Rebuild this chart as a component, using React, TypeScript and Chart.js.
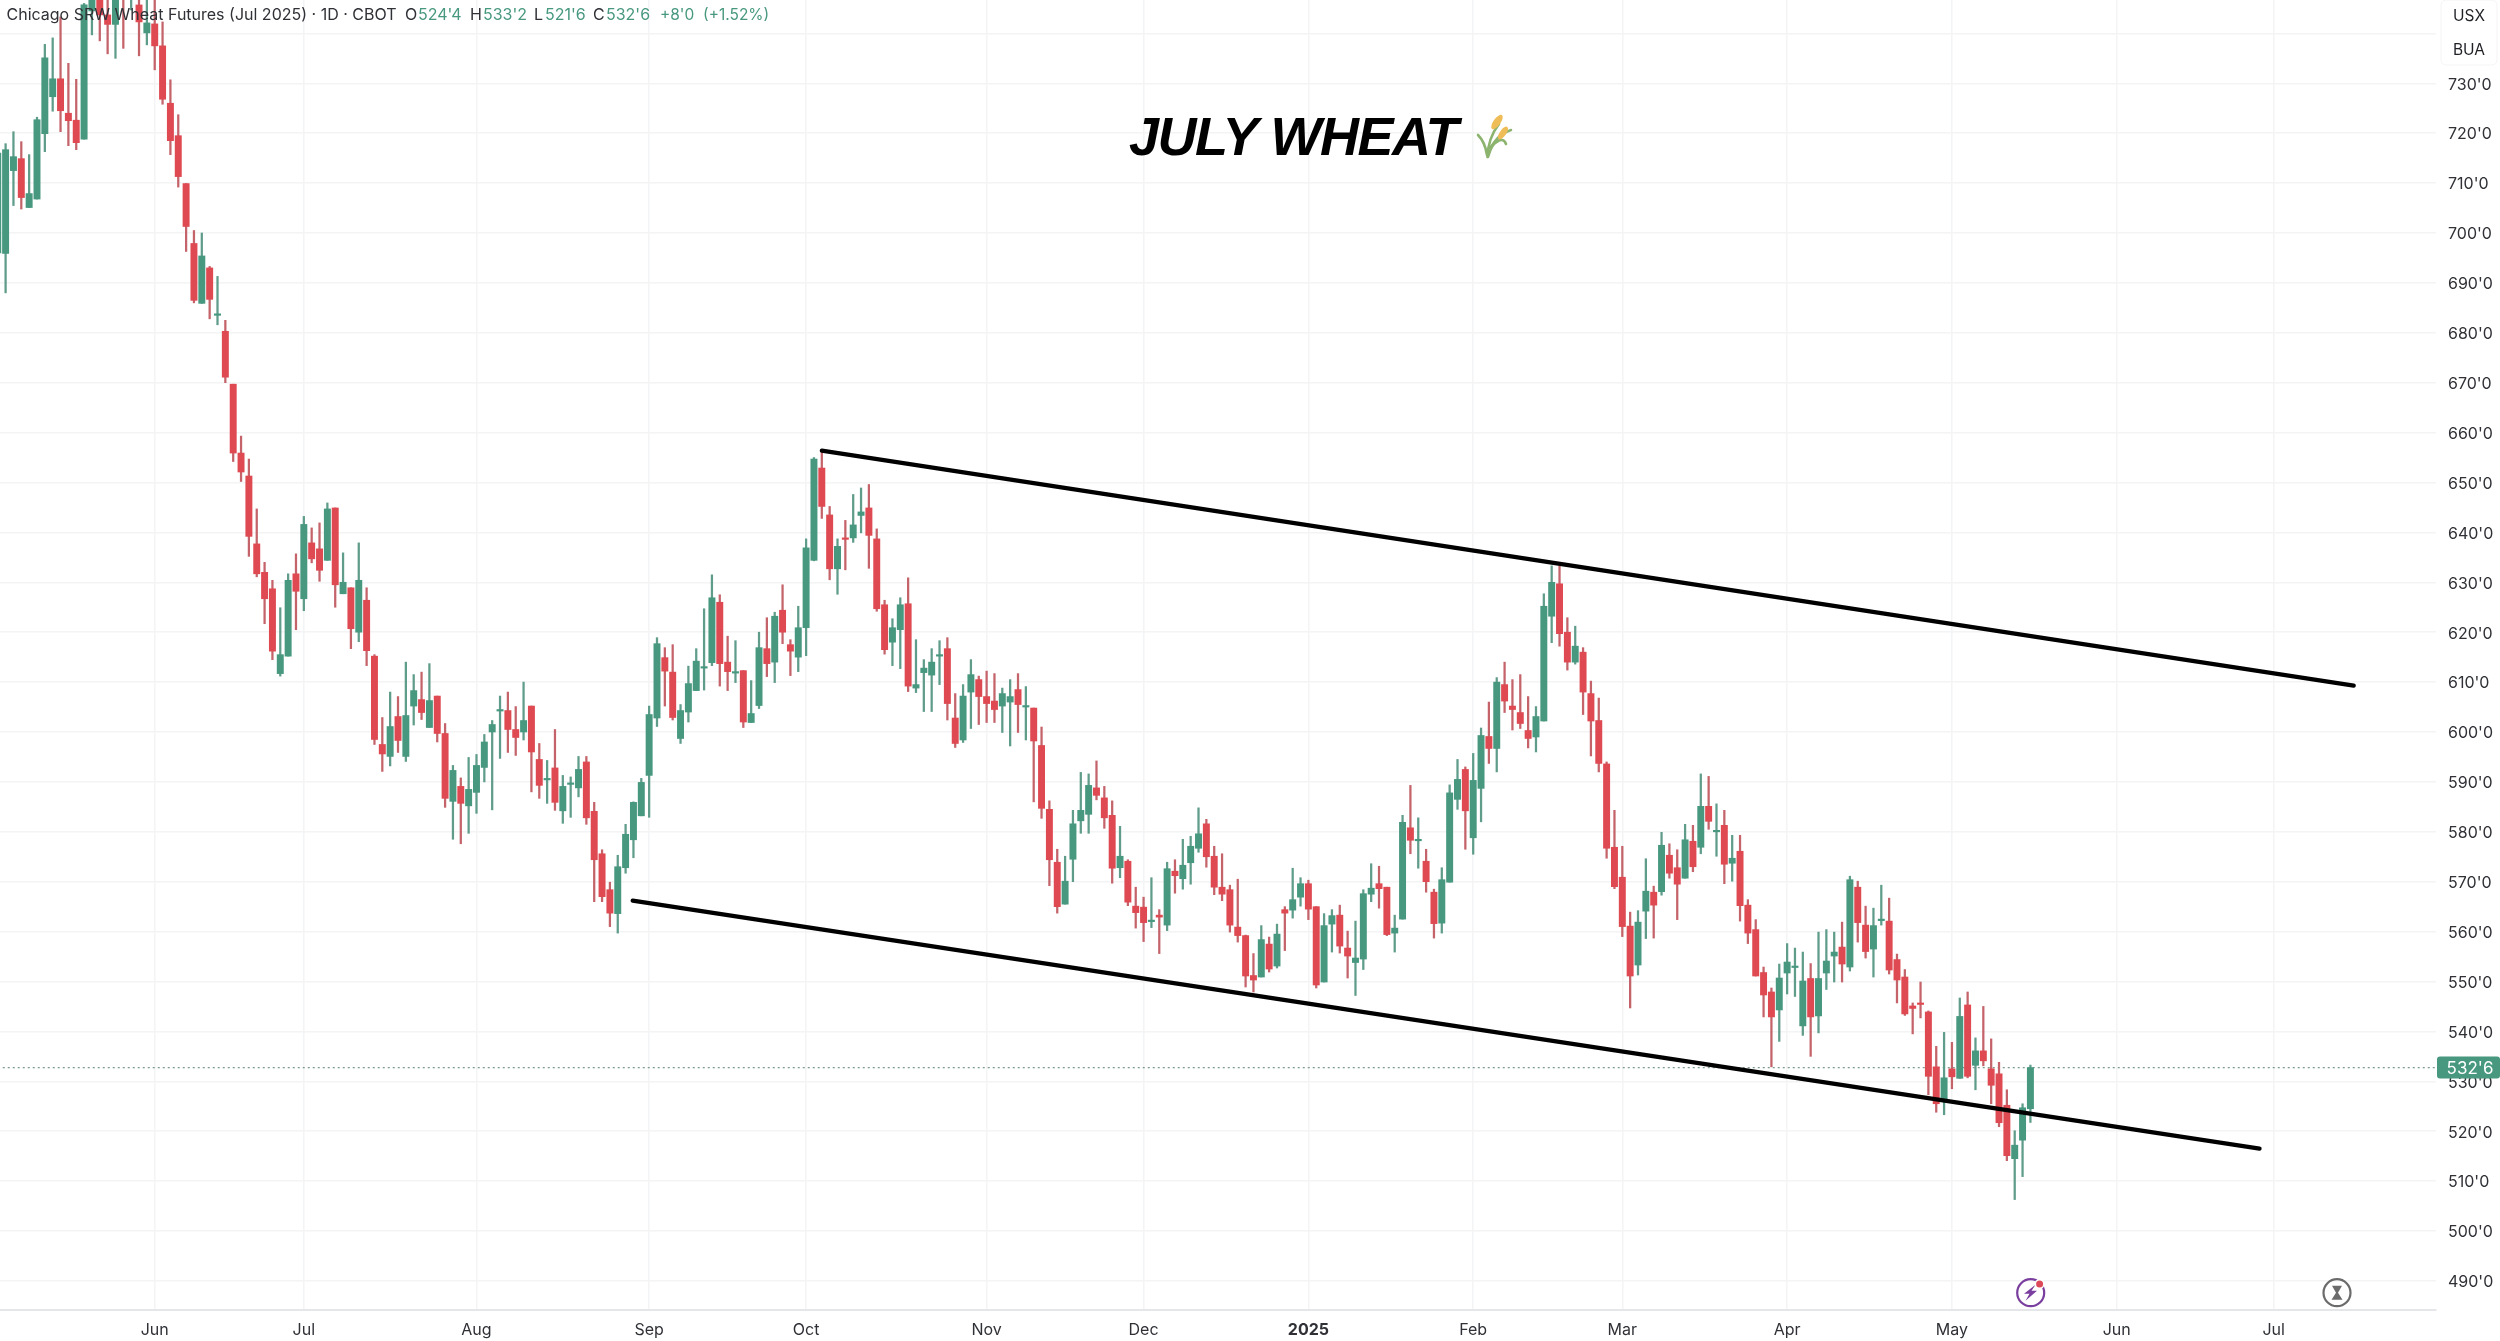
import React, { useEffect, useRef } from "react";
import { Chart, registerables } from "chart.js";

Chart.register(...registerables);

const opens = [696,
695.9,712.5,714.9,705.1,706.8,719.9,727.3,730.9,724,722.6,
718.8,744.5,750,743.7,741.8,752,748,745.7,740.1,741.9,
737.5,726,719.5,709.9,697.9,685.9,693,683.5,680.3,669.7,
655.9,651.3,637.7,632,628.7,611.7,615.2,631.7,626.7,637.9,
636.7,634.4,644.9,627.7,628.9,620,626.4,615.2,597.5,595.1,
603.1,595.1,605.2,606.5,600.9,607.2,599.7,586.1,589.1,585.2,
587.9,592.9,600,604.2,604.3,600.5,600,605.2,594.5,590.4,
592.8,584.2,589.5,588.8,594,584.1,575.6,568.4,563.6,572.8,
578.4,583.2,591.3,602.8,614.9,612,598.7,604,608.3,612.8,
613.9,626,614,611.8,612.3,601.9,605.3,616.7,614,624.4,
617.5,615,620.9,634.4,652.9,643.5,632.7,638.9,638.9,643.4,
644.9,638.7,625.5,618,620.5,625.7,608.8,611.9,611.4,615.2,
616.7,602.8,598.4,608,610.5,607.1,606.2,605.2,606,608.5,
605,604.8,597.3,584.5,573.9,565.5,574.5,582.2,583.5,588.8,
586.8,583.3,572.8,574.1,565.1,564.9,562,563.3,561.3,572.1,
570.6,573.8,576.7,581.6,575.1,568.9,568.4,560.9,559.2,551.2,
550.9,557.5,553.1,564.4,564.3,566.9,569.6,565,549.9,561.5,
563.3,556.7,553.8,554.5,567.5,569.6,568.9,559.7,562.5,580.8,
578.2,574.1,567.9,561.7,569.9,586.5,592.5,578.8,588.7,599.1,
596.7,609.5,605.2,603.9,600.3,599,602.2,623.2,629.7,620,
614,616,607.7,602.3,593.6,576.9,570.9,561.1,553.3,564.1,
567.9,568,575.3,572.8,570.7,578.1,576.9,585.1,580,581.3,
573.7,576.1,565.3,560.4,551.8,547.9,544.3,551.7,552.8,541.1,
550.6,543.1,551.7,555.1,556.9,552.9,568.9,561.3,556.5,562.2,
562.1,554.4,550.9,545.1,545.7,543.9,532.9,526.3,532.5,530.6,
545.3,533.2,536.1,532.5,531.5,525.2,514.5,518.2,524.5];

const closes = [716,
716.7,715.3,707.1,707.9,722.7,735.1,730.9,724.5,722.5,718.1,
745.7,750,743.7,741.8,750,748,751,742.3,742.1,737.5,
726.8,718.5,711.3,701.3,686.5,695.4,686.7,683.8,671.1,655.9,
652.1,639.2,631.7,626.7,616.2,615.5,630.4,628.2,641.6,634.7,
632.4,644.7,629.5,630,620.7,630.4,616.3,598.5,595.6,601.1,
598.3,603.3,608.3,603.9,606.3,599.7,586.7,592.3,585.7,588.5,
593.3,598,601.5,604.5,600.5,598.9,602.3,596,589.3,590.7,
585.9,589.1,589.8,592.5,582.8,574.4,567,563.7,573,579.5,
585.9,589.9,603.5,617.7,612.2,602.9,604.3,609.7,614.2,613.1,
626.9,613.7,612.1,612.1,602,603.7,616.9,613.7,623.2,620,
616.2,620.9,636.9,654.7,645.2,632.7,637.2,638.6,641.5,644.1,
639.4,624.7,616.5,620.9,625.5,609.2,609.5,612.8,614,615.5,
605.7,597.7,607.2,611.5,607.1,605.7,604.5,607.7,607.1,605.5,
605.3,598.2,584.7,574.4,565,570.1,581.6,584.3,589.3,587.3,
582.8,572.7,575.1,565.9,563.8,561.8,562.3,562.9,572.6,571.2,
573.3,577.1,579.6,575,568.9,567.5,561.3,559.2,551.1,550.3,
558.4,552.5,559.5,563.7,566.4,569.6,564.5,549.3,561.2,563.2,
557.1,555.1,554.7,567.6,568.7,568.6,559.4,560.7,581.9,578.3,
578.5,570,561.6,570.4,587.8,590.5,584.2,590.3,599.3,596.7,
610,606.2,604.5,601.7,598.7,603.1,625.2,630,619.7,614,
617.2,608,602.2,593.7,576.7,569,561,551.1,561.9,568.1,
565.3,577.3,571.7,569.5,578.4,573,585.1,582.1,580.3,573.5,
574.7,565.2,559.7,551.1,547.3,542.9,550.7,553.9,553.1,550.1,
542.9,550.6,554.1,555.9,553.5,570.4,561.8,556,561.2,562.5,
552.3,550.3,543.5,544.6,545.4,531,525.5,530.7,530.9,543,
531,536.1,534.1,529.2,521.7,515.1,517.2,524.7,532.75];

const highs = [718,
717.9,720.3,718.3,715.7,723.2,737.8,739.1,743.3,734,730.8,
746,752,753,748,752,754,752,747.5,747.5,747.5,
742.3,730.7,723.7,709.9,700.5,700,693.3,691.3,682.5,669.7,
659.3,654.7,644.7,634,630.4,624.9,631.7,635.7,643.2,640.9,
641.9,645.9,644.9,635.9,628.9,637.9,628.9,615.5,602.9,608,
607.1,614,611.5,612,613.7,607.2,601.7,593.3,590.8,594.9,
595.5,599.5,602.3,607.2,608,605.1,610,605.2,597.7,594.3,
600.5,591.3,591,595.1,595.1,585.9,576.4,569.9,575.3,581.5,
586,590.7,605.2,618.9,616.9,617.5,605.5,613.2,616.7,624.7,
631.5,627.5,619.2,618.3,612.3,610.3,620,622.9,624,629.5,
618.5,625.2,638.7,655,656.4,645.2,638.7,642.4,647.6,648.9,
649.6,640.7,626.4,622.7,626.9,630.9,618.5,614.5,616.7,618.3,
618.9,607.7,609.5,614.5,611.2,612.2,611.7,608.8,610.5,611.7,
609.1,604.8,601,586.2,576.5,575.1,584.3,591.9,591.6,594.2,
589.1,586.2,581.1,574.4,568.9,566.9,570.8,564.4,573.9,574.4,
578.5,579.1,584.8,582.5,577.1,575.6,569.3,570.5,559.3,555.6,
561.2,558.9,561.5,565,572.7,570.8,570.3,565,563.6,564.4,
565.3,560.1,562.1,568.4,573.6,573.1,568.9,563.3,583.3,589.3,
582.8,576.5,568.5,572.8,589.4,594.5,593,595.7,600.8,606,
610.9,614,610.5,611.5,607.1,605.1,627.7,633.3,633.2,622.9,
621.2,616.9,610.2,606.8,594,584.3,577.1,563.9,564.2,574.6,
569.1,579.9,577.6,576.4,581.5,581.3,591.6,591.1,585.6,584.3,
579.3,579.3,566.4,562.4,552.9,548.7,553.5,557.6,556.7,555.9,
553.6,559.9,560.4,559.9,561.9,571.1,570.1,565.1,564.7,569.3,
566.7,555.5,552.4,545.7,549.9,544.1,537,539.8,537.8,546.7,
547.9,538.7,545,538.5,533.8,528.3,520.1,525.5,533.25];

const lows = [680,
688,705.5,704.8,705.1,706.8,716.3,724.4,720.3,717.5,716.7,
718.8,739.7,738.5,735.9,735,737,744.7,735.5,737.7,732.7,
725.8,715.7,709.2,696.3,686,685.9,682.8,681.6,670,654.2,
650.2,635.2,631.1,621.7,614.5,611.2,615.2,620.5,624.3,633.9,
630.2,634.4,625,627.7,616.7,618.1,613.3,597.5,592.1,593.2,
595.9,594.1,601.4,602.5,600.9,598,584.9,578.5,577.6,579.7,
583.7,590,584.4,594.7,595.9,595.3,598.4,588,586.7,585.7,
584.3,581.7,582.9,587,581.5,566,566,561,559.7,571.7,
574.8,583.2,582.9,601.1,605.2,602.4,597.7,602,608.3,608.4,
613.3,609.2,608.3,609.9,600.9,601.9,604.7,611.1,609.9,617.7,
611.3,612.1,615.3,634.3,642.8,630.5,627.6,632.5,638,639.9,
632.8,624.2,615.6,613.3,612.7,608.1,607.9,604.1,604.1,609.5,
602.4,596.9,597.9,600.7,601.5,601.9,601.9,599.9,597.2,599.9,
598.4,586,582.7,569.2,563.7,565.5,570,579.7,579.7,586.4,
580.7,569.7,570.8,565.2,560.7,558,560.8,555.6,560.2,567.7,
568.5,569.5,575.9,572.9,567.4,566.2,559.9,557.9,548.9,547.9,
550.9,551.9,552.7,556.2,562.7,565.1,562.4,548.7,549.9,555.9,
555.7,550.7,547.2,552.4,566,564.7,559.2,555.9,562.5,575.6,
572.7,567.9,558.7,559.7,569.9,584.5,576.5,575.5,582,593.7,
592,603.9,600.4,600.7,596.8,596,602.2,617.9,617.2,612.4,
613.6,603.5,595.2,592,574.7,568.6,559,544.7,551.3,558.6,
558.7,567.3,570.7,562.4,570.7,572,575.6,580.5,575.1,569.6,
570.1,562.1,557.6,551.1,542.9,532.9,538,547.5,547,539.2,
535,539.7,548.4,549.9,549.9,552.1,557.9,554.7,550.9,561.3,
551.5,545.7,543.2,539.5,542.7,527.3,523.8,523.3,528.5,530.6,
530.7,528.3,533.1,525.5,520.9,514.1,506.3,510.9,521.75];

const monthLabels = ["Jun","Jul","Aug","Sep","Oct","Nov","Dec","2025","Feb","Mar","Apr","May","Jun","Jul"];
const monthBarIndex = [20,39,61,83,103,126,146,167,188,207,228,249,270,290];
const upperChannel = [{ x: 105, y: 656.4 }, { x: 300.2, y: 609.3 }];
const lowerChannel = [{ x: 80.9, y: 566.2 }, { x: 288.2, y: 516.5 }];
const lastClose = 532.75;
const lastCloseLabel = "532'6";
const headerTitle = "Chicago SRW Wheat Futures (Jul 2025) · 1D · CBOT";
const headline = "JULY WHEAT";
const currencyLabels = ["USX", "BUA"];

const GREEN = "#47987f";
const RED = "#df4a52";
const GREEN_WICK = "#5f9c8a";
const RED_WICK = "#c4636a";
const GRID = "#f3f4f6";
const TEXT = "#2f3136";
const SANS = "Inter, 'Liberation Sans', sans-serif";

function roundRect(c: CanvasRenderingContext2D, x: number, y: number, w: number, h: number, r: number) {
  c.beginPath();
  c.roundRect(x, y, w, h, r);
}

function drawWheat(c: CanvasRenderingContext2D) {
  c.save();
  c.lineCap = "round";
  c.strokeStyle = "#8cb46e";
  c.lineWidth = 2.6;
  c.beginPath(); c.moveTo(1487.5, 157); c.quadraticCurveTo(1488, 138, 1499, 124); c.stroke();
  c.beginPath(); c.moveTo(1488, 157); c.quadraticCurveTo(1492, 142, 1503, 133); c.stroke();
  c.beginPath(); c.moveTo(1487, 155); c.quadraticCurveTo(1485, 142, 1478, 135); c.stroke();
  c.beginPath(); c.moveTo(1490, 148); c.quadraticCurveTo(1500, 133, 1511, 130); c.stroke();
  c.beginPath(); c.moveTo(1492, 146); c.quadraticCurveTo(1503, 135, 1506, 144); c.stroke();
  c.fillStyle = "#efbd57";
  c.save(); c.translate(1497, 122); c.rotate(0.62); c.beginPath(); c.ellipse(0, 0, 3.6, 8.5, 0, 0, Math.PI * 2); c.fill(); c.restore();
  c.save(); c.translate(1503, 133); c.rotate(0.62); c.beginPath(); c.ellipse(0, 0, 3.2, 7.5, 0, 0, Math.PI * 2); c.fill(); c.restore();
  c.restore();
}

const overlays = {
  id: "overlays",
  afterDraw(chart: any) {
    const c: CanvasRenderingContext2D = chart.ctx;
    c.save();
    c.textBaseline = "middle";
    c.textAlign = "left";

    // Legend line
    c.font = `400 16px ${SANS}`;
    c.fillStyle = TEXT;
    c.fillText(headerTitle, 6.5, 15.5);
    const ohlc: [string, string, number, number][] = [
      ["O", "524'4", 405, 418],
      ["H", "533'2", 470, 483],
      ["L", "521'6", 534, 545],
      ["C", "532'6", 593, 606],
    ];
    for (const [k, v, kx, vx] of ohlc) {
      c.fillStyle = TEXT;
      c.fillText(k, kx, 15.5);
      c.fillStyle = GREEN;
      c.fillText(v, vx, 15.5);
    }
    c.font = `400 15.5px ${SANS}`;
    c.fillStyle = GREEN;
    c.fillText("+8'0", 660, 15.5);
    c.fillText("(+1.52%)", 703, 15.5);

    // Headline
    c.font = `italic 700 54px 'Liberation Sans', Arial, sans-serif`;
    (c as any).letterSpacing = "-1.5px";
    c.fillStyle = "#000";
    c.fillText(headline, 1129, 140);
    (c as any).letterSpacing = "0px";
    drawWheat(c);

    // Currency / unit box
    c.fillStyle = "#fff";
    roundRect(c, 2441, 0, 56, 65, 5);
    c.fill();
    c.strokeStyle = "#f4f4f5";
    c.lineWidth = 1;
    c.stroke();
    c.textAlign = "center";
    c.fillStyle = "#1f2125";
    c.font = `400 15.5px ${SANS}`;
    c.fillText(currencyLabels[0], 2469, 16.7);
    c.fillText(currencyLabels[1], 2469, 50.3);

    // Last price tag
    const y = chart.scales.y.getPixelForValue(lastClose);
    c.fillStyle = GREEN;
    roundRect(c, 2437, y - 11, 63, 22, 3);
    c.fill();
    c.fillStyle = "#fff";
    c.font = `400 17px ${SANS}`;
    c.fillText(lastCloseLabel, 2470, y + 1);

    // Bottom pane badges
    const by = 1292.7;
    c.lineWidth = 2.2;
    c.strokeStyle = "#7a3f9e";
    c.beginPath(); c.arc(2030.7, by, 13.5, 0, Math.PI * 2); c.stroke();
    c.fillStyle = "#7a3f9e";
    c.beginPath();
    c.moveTo(2035.5, by - 8); c.lineTo(2024, by + 1); c.lineTo(2029.5, by + 1);
    c.lineTo(2025.5, by + 8); c.lineTo(2037, by - 2); c.lineTo(2031.5, by - 2);
    c.closePath(); c.fill();
    c.fillStyle = "#fff";
    c.beginPath(); c.arc(2039.6, 1284, 5, 0, Math.PI * 2); c.fill();
    c.fillStyle = "#dc4a5a";
    c.beginPath(); c.arc(2039.6, 1284, 3.5, 0, Math.PI * 2); c.fill();

    c.strokeStyle = "#6b6b6b";
    c.beginPath(); c.arc(2337, by, 13.5, 0, Math.PI * 2); c.stroke();
    c.fillStyle = "#6b6b6b";
    c.beginPath();
    c.moveTo(2332, by - 7); c.lineTo(2342, by - 7); c.lineTo(2338, by); c.lineTo(2342.5, by + 7);
    c.lineTo(2331.5, by + 7); c.lineTo(2336, by); c.closePath(); c.fill();
    c.restore();
  },
};

export default function App() {
  const ref = useRef<HTMLCanvasElement>(null);
  useEffect(() => {
    document.body.style.margin = "0";
    document.body.style.background = "#fff";
    const barX = (i: number) => i;
    const chart = new Chart(ref.current as HTMLCanvasElement, {
      type: "bar",
      data: {
        datasets: [
          {
            type: "line",
            data: upperChannel,
            borderColor: "#000",
            borderWidth: 4.2,
            borderCapStyle: "round",
            pointRadius: 0,
            order: 0,
          },
          {
            type: "line",
            data: lowerChannel,
            borderColor: "#000",
            borderWidth: 4.2,
            borderCapStyle: "round",
            pointRadius: 0,
            order: 0,
          },
          {
            type: "bar",
            data: opens.map((o, i) => ({ x: barX(i), y: [o, closes[i]] })),
            backgroundColor: opens.map((o, i) => (closes[i] >= o ? GREEN : RED)),
            barThickness: 6.3,
            grouped: false,
            order: 1,
          },
          {
            type: "bar",
            data: opens.map((_, i) => ({ x: barX(i), y: [lows[i], highs[i]] })),
            backgroundColor: opens.map((o, i) => (closes[i] >= o ? GREEN_WICK : RED_WICK)),
            barThickness: 1.6,
            grouped: false,
            order: 2,
          },
          {
            type: "line",
            data: [{ x: 0, y: lastClose }, { x: 311, y: lastClose }],
            borderColor: "#7d9a90",
            borderWidth: 1.3,
            borderDash: [2, 3],
            pointRadius: 0,
            order: 3,
          },
        ],
      } as any,
      options: {
        responsive: false,
        animation: false,
        events: [],
        layout: { padding: 0, autoPadding: false },
        plugins: { legend: { display: false }, tooltip: { enabled: false } },
        scales: {
          x: {
            type: "linear",
            offset: false,
            min: 0.2864,
            max: 310.68,
            grid: { color: GRID, lineWidth: 1.5, drawTicks: false, offset: false },
            border: { color: "#e4e6ea", width: 2 },
            afterBuildTicks: (s: any) => {
              s.ticks = monthBarIndex.map((value) => ({ value }));
            },
            afterFit: (s: any) => {
              s.height = 31;
              s.paddingLeft = 0;
              s.paddingRight = 0;
            },
            ticks: {
              autoSkip: false,
              maxRotation: 0,
              padding: 11,
              color: TEXT,
              font: (ctx: any) => ({
                family: SANS,
                size: 16,
                weight: ctx.tick && monthLabels[monthBarIndex.indexOf(ctx.tick.value)] === "2025" ? "700" : "400",
              }),
              callback: (v: any) => monthLabels[monthBarIndex.indexOf(v)] ?? "",
            },
          },
          y: {
            position: "right",
            min: 484.17,
            max: 746.69,
            grid: { color: GRID, lineWidth: 1.5, drawTicks: false },
            border: { display: false },
            afterFit: (s: any) => {
              s.width = 64;
              s.paddingTop = 0;
              s.paddingBottom = 0;
            },
            ticks: {
              stepSize: 10,
              includeBounds: false,
              padding: 12,
              labelOffset: 1.5,
              color: TEXT,
              font: { family: SANS, size: 16 },
              callback: (v: any) => (v <= 730 ? `${v}'0` : ""),
            },
          },
        },
      } as any,
      plugins: [overlays],
    });
    return () => chart.destroy();
  }, []);
  return (
    <div style={{ width: 2500, height: 1341 }}>
      <canvas ref={ref} width={2500} height={1341} style={{ display: "block", width: 2500, height: 1341 }} />
    </div>
  );
}
